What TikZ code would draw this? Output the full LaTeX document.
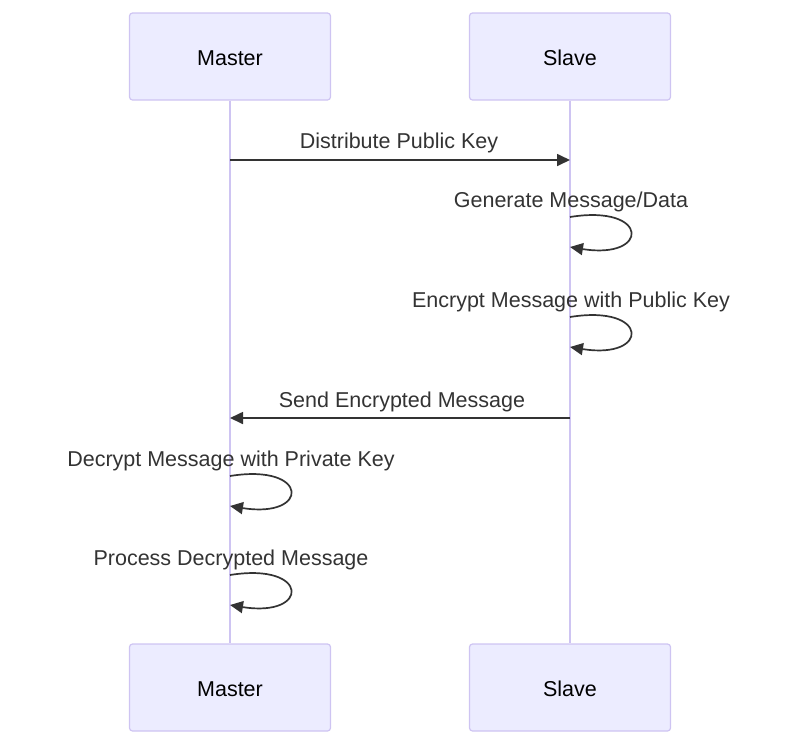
\documentclass[tikz,border=0pt]{standalone}
\usepackage{fontspec}
\setmainfont{Liberation Sans}
\definecolor{actorFill}{HTML}{ECECFF}
\definecolor{actorLine}{HTML}{CEC4F2}
\definecolor{msgGray}{HTML}{333333}
\usetikzlibrary{arrows.meta, positioning, calc}

\begin{document}
\begin{tikzpicture}[x=1pt, y=-1pt,
  actor/.style={rectangle, rounded corners=3pt, draw=actorLine, line width=1.2pt,
                fill=actorFill, minimum width=201pt, minimum height=87pt,
                text height=19pt, align=center, font=\fontsize{21.5}{25}\selectfont},
  life/.style={actorLine, line width=1.8pt},
  msg/.style={draw=msgGray, line width=1.7pt, -{Triangle[length=13pt, width=12pt]}},
  lbl/.style={text=msgGray, inner sep=0pt, font=\fontsize{21.5}{25}\selectfont},
]
  \useasboundingbox (0,0) rectangle (800,748);

  % Actors
  \node[actor] (mTop) at (230,56.5) {Master};
  \node[actor] (sTop) at (570,56.5) {Slave};
  \node[actor] (mBot) at (230,687.5) {Master};
  \node[actor] (sBot) at (570,687.5) {Slave};

  % Lifelines
  \draw[life] (mTop.south) -- (mBot.north);
  \draw[life] (sTop.south) -- (sBot.north);

  % Points on the lifelines
  \coordinate (m1) at (230,160);
  \coordinate (s1) at (570,160);
  \coordinate (s2a) at (570,217);
  \coordinate (s2b) at (570,247);
  \coordinate (s3a) at (570,317);
  \coordinate (s3b) at (570,347);
  \coordinate (s4) at (570,418);
  \coordinate (m4) at (230,418);
  \coordinate (m5a) at (230,476);
  \coordinate (m5b) at (230,506);
  \coordinate (m6a) at (230,575);
  \coordinate (m6b) at (230,605);

  % Messages
  \node[lbl] (t1) at (399,143) {Distribute Public Key};
  \draw[msg] (m1) -- (s1);

  \node[lbl] (t2) at (571,202) {Generate Message/Data};
  \draw[msg] (s2a) .. controls ($(s2a)+(80,-13)$) and ($(s2b)+(80,13)$) .. (s2b);

  \node[lbl] (t3) at (571,302) {Encrypt Message with Public Key};
  \draw[msg] (s3a) .. controls ($(s3a)+(80,-13)$) and ($(s3b)+(80,13)$) .. (s3b);

  \node[lbl] (t4) at (402,402) {Send Encrypted Message};
  \draw[msg] (s4) -- (m4);

  \node[lbl] (t5) at (231,461) {Decrypt Message with Private Key};
  \draw[msg] (m5a) .. controls ($(m5a)+(80,-13)$) and ($(m5b)+(80,13)$) .. (m5b);

  \node[lbl] (t6) at (231,560) {Process Decrypted Message};
  \draw[msg] (m6a) .. controls ($(m6a)+(80,-13)$) and ($(m6b)+(80,13)$) .. (m6b);
\end{tikzpicture}
\end{document}
